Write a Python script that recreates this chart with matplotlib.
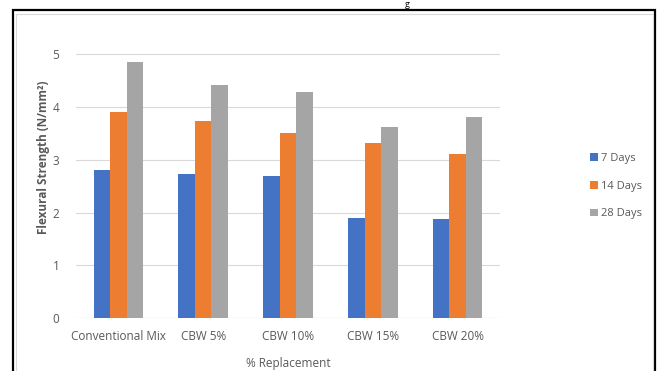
import matplotlib.pyplot as plt
import numpy as np
from matplotlib.patches import Rectangle

# datos del grafico
categories = ["Conventional Mix", "CBW 5%", "CBW 10%", "CBW 15%", "CBW 20%"]
days_7 = [2.80, 2.74, 2.70, 1.90, 1.88]
days_14 = [3.90, 3.73, 3.51, 3.32, 3.12]
days_28 = [4.85, 4.42, 4.29, 3.62, 3.81]
series_labels = ["7 Days", "14 Days", "28 Days"]
colors = ["#4472C4", "#ED7D31", "#A5A5A5"]
y_ticks = [0, 1, 2, 3, 4, 5]

text_color = "#595959"
plt.rcParams["font.family"] = ["Open Sans", "DejaVu Sans"]

fig = plt.figure(figsize=(6.63, 3.71), dpi=100)
ax = fig.add_axes([76 / 663, 1 - 318 / 371, 424 / 663, (318 - 36) / 371])

x = np.arange(len(categories))
width = 0.195
for i, (vals, lab, col) in enumerate(zip([days_7, days_14, days_28], series_labels, colors)):
    ax.bar(x + (i - 1) * width, vals, width, color=col, label=lab, zorder=3)

ax.set_xlim(-0.5, len(categories) - 0.5)
ax.set_ylim(0, 5.35)
ax.set_yticks(y_ticks)
ax.set_xticks(x)
ax.set_xticklabels(categories)
ax.tick_params(axis="both", length=0, colors=text_color, labelsize=8.5, pad=9)
ax.tick_params(axis="y", pad=12)
ax.grid(axis="y", color="#D9D9D9", linewidth=0.8, zorder=0)
for s in ax.spines.values():
    s.set_visible(False)
ax.axhline(0, color="#D9D9D9", linewidth=0.8, zorder=2)

ax.set_ylabel("Flexural Strength (N/mm²)", color=text_color, fontsize=8.5,
              fontweight="bold")
ax.yaxis.set_label_coords(-26 / 424, (318 - 157) / 282)
ax.set_xlabel("% Replacement", color=text_color, fontsize=8.5, labelpad=10)

leg = fig.legend(loc="upper left", bbox_to_anchor=(580 / 663, 1 - 143 / 371),
                 frameon=False, fontsize=8, handlelength=0.7, handleheight=0.7,
                 handletextpad=0.3, labelspacing=1.5, labelcolor=text_color)

# marco del grafico
fig.patches.append(Rectangle((13 / 663, -0.05), (655 - 13) / 663, 1.05 - 10 / 371,
                             transform=fig.transFigure, fill=False,
                             edgecolor="black", linewidth=1.6))
fig.patches.append(Rectangle((16 / 663, -0.05), (653 - 16) / 663, 1.05 - 14 / 371,
                             transform=fig.transFigure, fill=False,
                             edgecolor="#D9D9D9", linewidth=0.8))
fig.text(407 / 663, 1.0, "g", fontsize=6.5, ha="center", va="top", color="black")

fig.savefig("out.png", dpi=100)
